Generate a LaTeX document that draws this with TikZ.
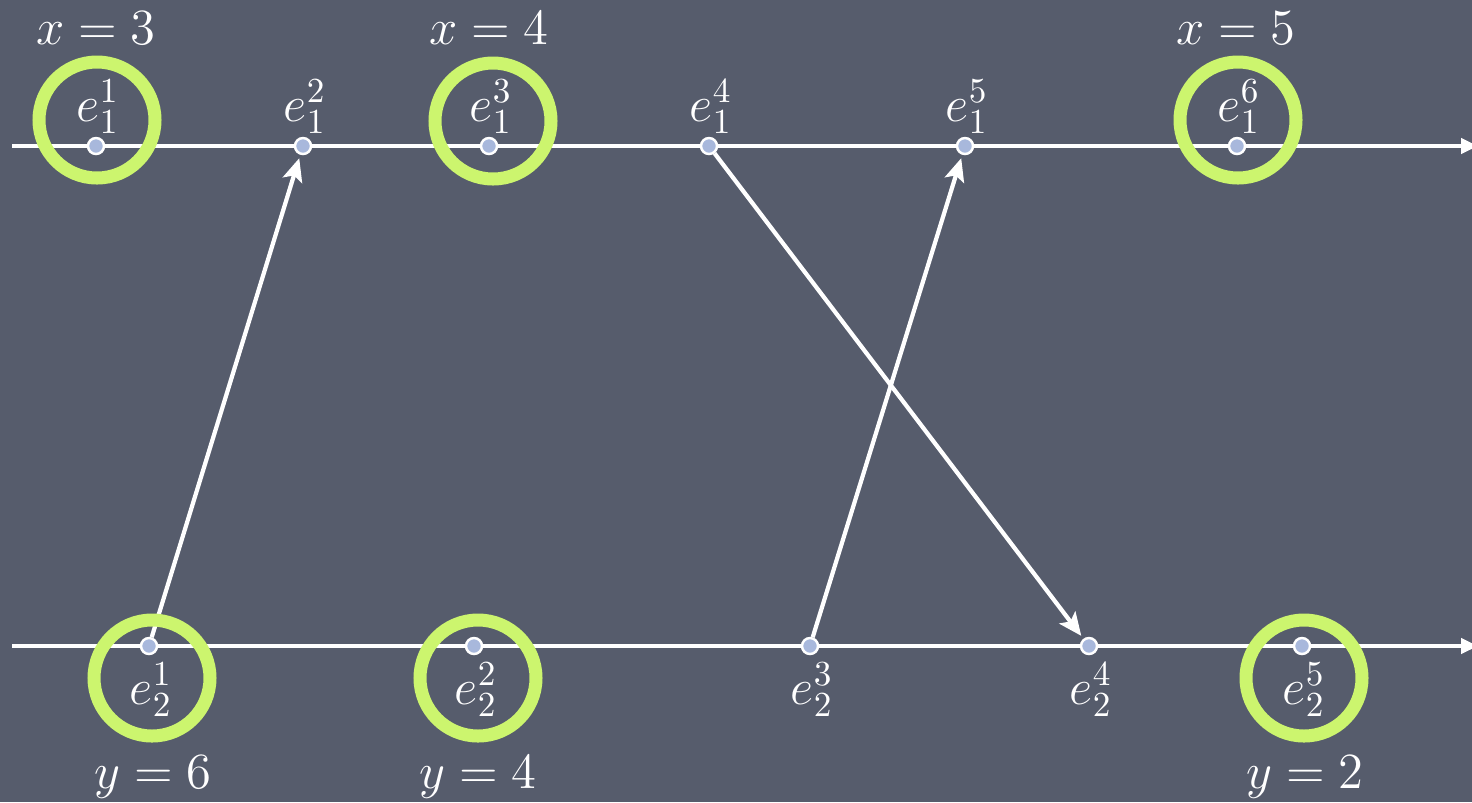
\documentclass[tikz,border=0pt]{standalone}
\usetikzlibrary{arrows.meta}
\definecolor{board}{RGB}{86,92,108}
\definecolor{chalkgreen}{RGB}{204,245,110}
\definecolor{dotblue}{RGB}{168,184,220}
\begin{document}
\begin{tikzpicture}[x=0.01cm,y=-0.01cm,
    txt/.style={text=white,font=\fontsize{14.5}{17}\selectfont},
    event/.style={circle,draw=white,fill=dotblue,line width=0.7pt,inner sep=0pt,minimum size=0.16cm},
    ring/.style={draw=chalkgreen,line width=0.13cm},
    tl/.style={draw=white,line width=1.3pt,-{Triangle[length=0.17cm,width=0.15cm]}},
    msg/.style={draw=white,line width=1.2pt,-{Stealth[length=0.23cm,width=0.2cm,inset=0.05cm]},shorten >=1pt}]
    \fill[board] (0,0) rectangle (1472,802);
    \useasboundingbox (0,0) rectangle (1472,802);

    \coordinate (s1) at (12,146);
    \coordinate (t1) at (1478,146);
    \coordinate (s2) at (12,646);
    \coordinate (t2) at (1478,646);

    \draw[tl] (s1) -- (t1);
    \draw[tl] (s2) -- (t2);

    % process 1
    \node[event] (e11) at (96,146) {};
    \node[event] (e12) at (303,146) {};
    \node[event] (e13) at (489,146) {};
    \node[event] (e14) at (709,146) {};
    \node[event] (e15) at (965,146) {};
    \node[event] (e16) at (1237,146) {};

    % process 2
    \node[event] (e21) at (149,646) {};
    \node[event] (e22) at (474,646) {};
    \node[event] (e23) at (810,646) {};
    \node[event] (e24) at (1089,646) {};
    \node[event] (e25) at (1302,646) {};

    \node[txt] (l11) at (98,107) {$e_1^1$};
    \node[txt] (l12) at (305,107) {$e_1^2$};
    \node[txt] (l13) at (491,107) {$e_1^3$};
    \node[txt] (l14) at (711,107) {$e_1^4$};
    \node[txt] (l15) at (967,107) {$e_1^5$};
    \node[txt] (l16) at (1239,107) {$e_1^6$};

    \node[txt] (l21) at (151,690) {$e_2^1$};
    \node[txt] (l22) at (476,690) {$e_2^2$};
    \node[txt] (l23) at (812,690) {$e_2^3$};
    \node[txt] (l24) at (1091,690) {$e_2^4$};
    \node[txt] (l25) at (1304,690) {$e_2^5$};

    \draw[msg] (e21) -- (e12);
    \draw[msg] (e14) -- (e24);
    \draw[msg] (e23) -- (e15);

    % cut
    \draw[ring] (97,120) circle (58);
    \draw[ring] (493,121) circle (58);
    \draw[ring] (1238,120) circle (58);
    \draw[ring] (152,678) circle (58);
    \draw[ring] (478,678) circle (58);
    \draw[ring] (1304,678) circle (58);

    \node[txt] (x1) at (96,28) {$x = 3$};
    \node[txt] (x2) at (489,28) {$x = 4$};
    \node[txt] (x3) at (1236,28) {$x = 5$};
    \node[txt] (y1) at (153,777) {$y = 6$};
    \node[txt] (y2) at (478,777) {$y = 4$};
    \node[txt] (y3) at (1305,777) {$y = 2$};
\end{tikzpicture}
\end{document}
